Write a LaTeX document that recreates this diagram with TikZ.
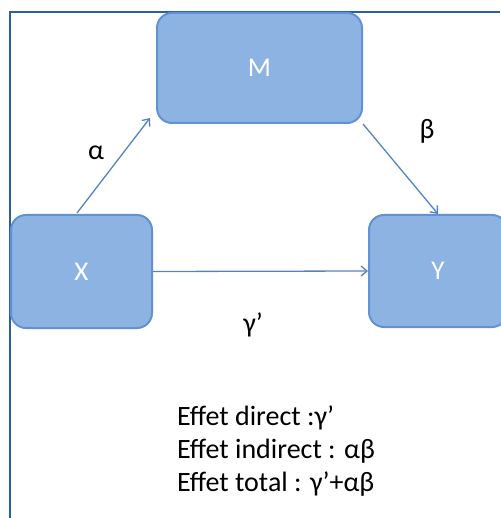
\documentclass[tikz,border=0pt]{standalone}
\usepackage{fontspec}
\setmainfont{Carlito}
\usetikzlibrary{arrows.meta}
\definecolor{framec}{RGB}{47,95,152}
\definecolor{boxfill}{RGB}{141,179,226}
\definecolor{boxline}{RGB}{98,146,214}
\definecolor{arrowc}{RGB}{84,131,196}
\begin{document}
\begin{tikzpicture}[x=1pt,y=-1pt,
  box/.style={draw=boxline, fill=boxfill, line width=2pt, rounded corners=15pt,
    text=white, font=\fontsize{27}{32}\selectfont, inner sep=0pt},
  link/.style={draw=arrowc, line width=1.3pt, -{Straight Barb[length=6pt,width=10pt]}},
  lab/.style={font=\fontsize{28}{32}\selectfont, inner sep=0pt},
  txt/.style={font=\fontsize{28}{32}\selectfont, anchor=base west, inner sep=0pt}]
\useasboundingbox (0,0) rectangle (500,518);
\draw[framec, line width=2.2pt] (10,518) -- (10,12) -- (500,12);
\node[box, minimum width=205pt, minimum height=110pt] (M) at (259.5,68) {M};
\node[box, minimum width=141pt, minimum height=113pt] (X) at (81.5,271.5) {X};
\node[box, minimum width=138pt, minimum height=112pt] (Y) at (438,271) {Y};
\draw[link] ([xshift=-4.5pt,yshift=1pt]X.north) -- ([xshift=-6pt,yshift=6pt]M.south west);
\draw[link] (M.south east) -- (Y.north);
\draw[link] (X.east) -- (Y.west);
\node[lab] (a) at (96,153) {α};
\node[lab] (b) at (427,131) {β};
\node[lab] (g) at (253,325) {γ'};
\node[txt] (t1) at (177,425) {Effet direct :γ’};
\node[txt] (t2) at (177,458) {Effet indirect : αβ};
\node[txt] (t3) at (177,491) {Effet total : γ’+αβ};
\end{tikzpicture}
\end{document}
